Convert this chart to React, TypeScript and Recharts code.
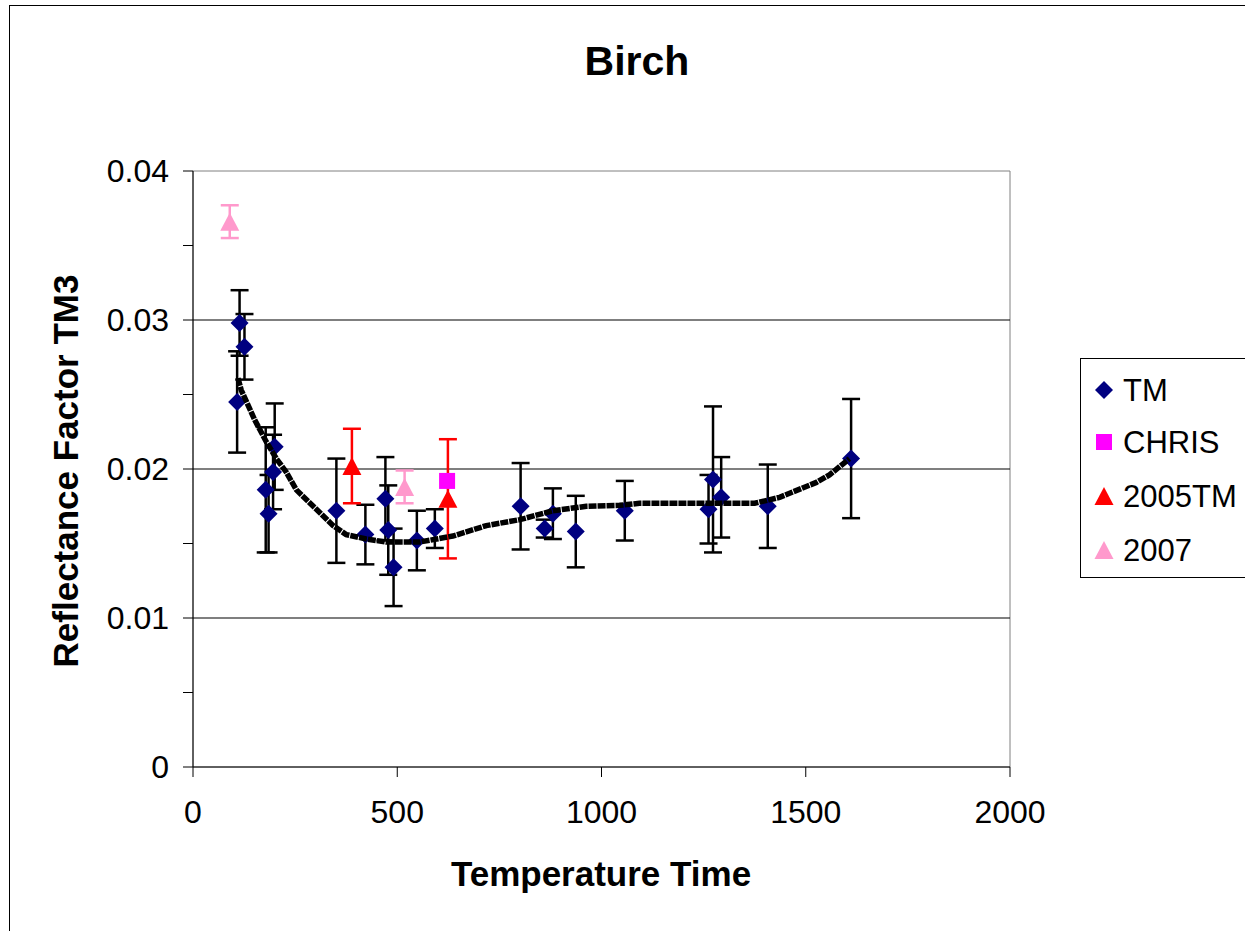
import React from 'react';
import {
  ComposedChart,
  Scatter,
  XAxis,
  YAxis,
  ErrorBar,
  ReferenceLine,
  ReferenceArea,
} from 'recharts';

const FONT = '"Liberation Sans", Arial, sans-serif';

// TM observations
const tmX = [108, 114, 126, 178, 185, 196, 200, 351, 422, 471, 478, 491, 548, 592, 802, 861, 881, 937, 1057, 1262, 1273, 1293, 1407, 1611];
const tmY = [0.0245, 0.0298, 0.0282, 0.0186, 0.017, 0.0198, 0.0215, 0.0172, 0.0156, 0.018, 0.0159, 0.0134, 0.0152, 0.016, 0.0175, 0.016, 0.017, 0.0158, 0.0172, 0.0173, 0.0193, 0.0181, 0.0175, 0.0207];
const tmErr = [0.0034, 0.0022, 0.0022, 0.0042, 0.0026, 0.0025, 0.0029, 0.0035, 0.002, 0.0028, 0.003, 0.0026, 0.002, 0.0013, 0.0029, 0.0006, 0.0017, 0.0024, 0.002, 0.0023, 0.0049, 0.0027, 0.0028, 0.004];

// CHRIS
const chrisX = [622];
const chrisY = [0.0192];

// 2005TM
const tm05X = [389, 624];
const tm05Y = [0.0202, 0.018];
const tm05Err = [0.0025, 0.004];

// 2007
const y07X = [90, 518];
const y07Y = [0.0366, 0.0188];
const y07Err = [0.0011, 0.0011];

// trend line
const trendX = [110, 118, 151, 180, 204, 228, 253, 302, 343, 375, 424, 473, 555, 596, 636, 718, 800, 881, 963, 1044, 1093, 1375, 1436, 1526, 1558, 1607];
const trendY = [0.0261, 0.0253, 0.0233, 0.0218, 0.0207, 0.0198, 0.0186, 0.0173, 0.0162, 0.0156, 0.0153, 0.0151, 0.0151, 0.0153, 0.0155, 0.0162, 0.0166, 0.0172, 0.0175, 0.01756, 0.0177, 0.0177, 0.0181, 0.0191, 0.0196, 0.0207];

const xTicks = [0, 500, 1000, 1500, 2000];
const yTicks = [0, 0.005, 0.01, 0.015, 0.02, 0.025, 0.03, 0.035, 0.04];
const gridLines = [0.01, 0.02, 0.03];

const tmData = tmX.map((x, i) => ({ x, y: tmY[i], e: tmErr[i] }));
const chrisData = chrisX.map((x, i) => ({ x, y: chrisY[i] }));
const tm05Data = tm05X.map((x, i) => ({ x, y: tm05Y[i], e: tm05Err[i] }));
const y07Data = y07X.map((x, i) => ({ x, y: y07Y[i], e: y07Err[i] }));
const trendData = trendX.map((x, i) => ({ x, y: trendY[i] }));

const Diamond = (p: any) => {
  const r = 9;
  return <polygon points={`${p.cx},${p.cy - r} ${p.cx + r},${p.cy} ${p.cx},${p.cy + r} ${p.cx - r},${p.cy}`} fill="#000080" />;
};
const Square = (p: any) => <rect x={p.cx - 8} y={p.cy - 8} width={16} height={16} fill="#FF00FF" />;
const triangle = (color: string) => (p: any) => (
  <polygon points={`${p.cx},${p.cy - 9} ${p.cx + 9.5},${p.cy + 9} ${p.cx - 9.5},${p.cy + 9}`} fill={color} />
);
const Nothing = () => <g />;

const yFmt = (v: number) => (Math.round(v * 1000) % 10 === 0 ? String(v) : '');

const legendItems = [
  { name: 'TM', y: 390, kind: 'diamond' },
  { name: 'CHRIS', y: 442, kind: 'square' },
  { name: '2005TM', y: 496, kind: 'red' },
  { name: '2007', y: 550, kind: 'pink' },
];

const LegendMarker = ({ kind, y }: { kind: string; y: number }) => {
  const cx = 1104;
  if (kind === 'diamond') return <Diamond cx={cx} cy={y} />;
  if (kind === 'square') return <Square cx={cx} cy={y} />;
  return triangle(kind === 'red' ? '#FF0000' : '#FF99CC')({ cx, cy: y });
};

export default function App() {
  return (
    <div style={{ position: 'absolute', left: 0, top: 0, width: 1245, height: 931, overflow: 'hidden', background: '#fff' }}>
      <ComposedChart width={1245} height={931} margin={{ top: 171, right: 235, bottom: 84, left: 43 }}>
        <ReferenceArea x1={0} x2={2000} y1={0} y2={0.04} fill="none" stroke="#808080" strokeWidth={1} />
        {gridLines.map((g) => (
          <ReferenceLine key={g} y={g} stroke="#000" strokeWidth={1.2} />
        ))}
        <XAxis
          type="number"
          dataKey="x"
          domain={[0, 2000]}
          ticks={xTicks}
          height={80}
          tickSize={10}
          tickMargin={23}
          stroke="#000"
          tick={{ fontSize: 32, fill: '#000', fontFamily: FONT }}
        />
        <YAxis
          type="number"
          dataKey="y"
          domain={[0, 0.04]}
          ticks={yTicks}
          width={150}
          tickSize={10}
          tickMargin={14}
          stroke="#000"
          tickFormatter={yFmt}
          tick={{ fontSize: 32, fill: '#000', fontFamily: FONT }}
        />
        <Scatter name="TM" data={tmData} shape={Diamond} isAnimationActive={false}>
          <ErrorBar dataKey="e" direction="y" width={9} stroke="#000" strokeWidth={2.5} />
        </Scatter>
        <Scatter name="2005TM" data={tm05Data} shape={triangle('#FF0000')} isAnimationActive={false}>
          <ErrorBar dataKey="e" direction="y" width={9} stroke="#FF0000" strokeWidth={2.5} />
        </Scatter>
        <Scatter name="CHRIS" data={chrisData} shape={Square} isAnimationActive={false} />
        <Scatter name="2007" data={y07Data} shape={triangle('#FF99CC')} isAnimationActive={false}>
          <ErrorBar dataKey="e" direction="y" width={9} stroke="#FF99CC" strokeWidth={2.5} />
        </Scatter>
        <Scatter
          name="trend"
          data={trendData}
          shape={Nothing}
          line={{ stroke: '#000', strokeWidth: 5.5, strokeDasharray: '8 1' }}
          lineType="joint"
          isAnimationActive={false}
        />
      </ComposedChart>
      <svg width={1245} height={931} style={{ position: 'absolute', left: 0, top: 0, pointerEvents: 'none' }}>
        <rect x={9.5} y={5.5} width={2000} height={2000} fill="none" stroke="#000" strokeWidth={1} />
        <text x={637} y={75} textAnchor="middle" fontFamily={FONT} fontWeight="bold" fontSize={41} fill="#000">
          Birch
        </text>
        <text x={601} y={886} textAnchor="middle" fontFamily={FONT} fontWeight="bold" fontSize={35} fill="#000">
          Temperature Time
        </text>
        <text
          transform="translate(77.5,471) rotate(-90)"
          textAnchor="middle"
          fontFamily={FONT}
          fontWeight="bold"
          fontSize={35}
          fill="#000"
        >
          Reflectance Factor TM3
        </text>
        <rect x={1080.5} y={358.5} width={400} height={219} fill="#fff" stroke="#000" strokeWidth={1} />
        {legendItems.map((it) => (
          <g key={it.name}>
            <LegendMarker kind={it.kind} y={it.y} />
            <text x={1123} y={it.y + 11} fontFamily={FONT} fontSize={31} fill="#000">
              {it.name}
            </text>
          </g>
        ))}
      </svg>
    </div>
  );
}
